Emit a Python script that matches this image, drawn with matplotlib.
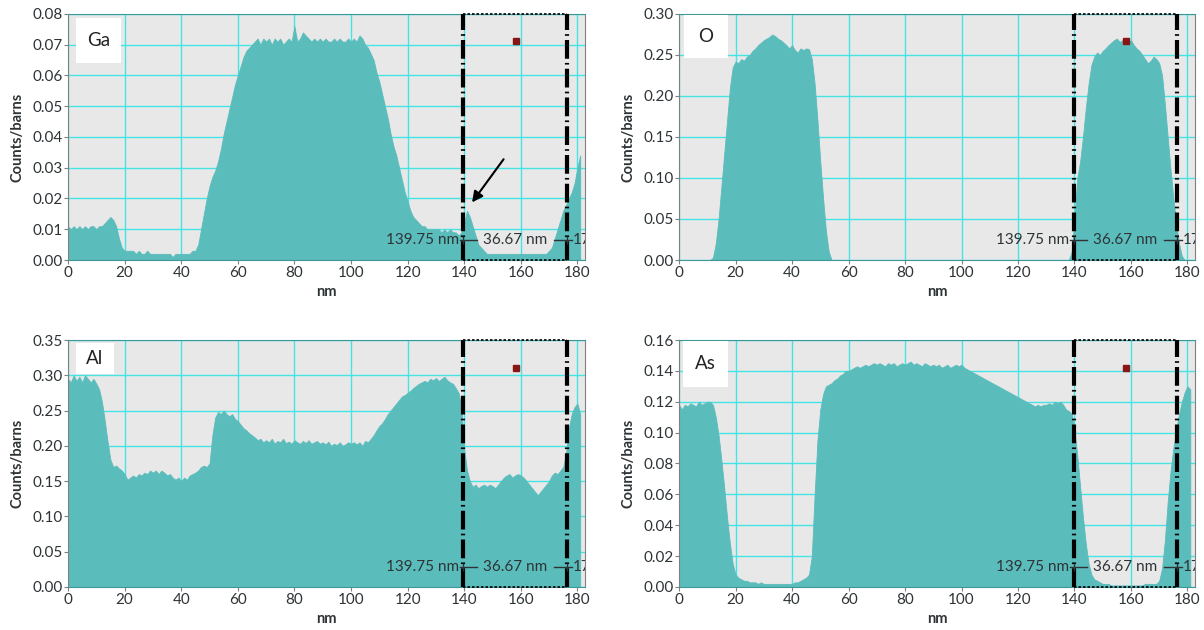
import numpy as np
import matplotlib.pyplot as plt
from matplotlib.patches import Rectangle

plt.rcParams['font.family'] = ['Lato', 'DejaVu Sans']

# positions along the line scan, 1 nm steps [nm]
x_nm = np.arange(0, 182)

ga = [0.011, 0.010, 0.011, 0.010, 0.011, 0.010, 0.011, 0.010, 0.011, 0.011,
      0.010, 0.011, 0.011, 0.012, 0.013, 0.014, 0.013, 0.011, 0.007, 0.004,
      0.003, 0.003, 0.003, 0.003, 0.002, 0.003, 0.002, 0.002, 0.003, 0.002,
      0.002, 0.002, 0.002, 0.002, 0.002, 0.002, 0.002, 0.001, 0.002, 0.002,
      0.002, 0.002, 0.002, 0.002, 0.003, 0.003, 0.005, 0.010, 0.015, 0.020,
      0.024, 0.027, 0.029, 0.032, 0.036, 0.041, 0.045, 0.049, 0.053, 0.057,
      0.060, 0.063, 0.066, 0.068, 0.069, 0.070, 0.071, 0.072, 0.070, 0.072,
      0.071, 0.072, 0.070, 0.072, 0.071, 0.072, 0.070, 0.071, 0.072, 0.071,
      0.076, 0.071, 0.072, 0.074, 0.073, 0.072, 0.071, 0.072, 0.071, 0.072,
      0.071, 0.072, 0.071, 0.071, 0.072, 0.071, 0.072, 0.071, 0.071, 0.072,
      0.071, 0.072, 0.071, 0.073, 0.072, 0.070, 0.069, 0.067, 0.065, 0.061,
      0.058, 0.054, 0.050, 0.046, 0.041, 0.037, 0.034, 0.030, 0.026, 0.022,
      0.019, 0.016, 0.014, 0.013, 0.012, 0.011, 0.011, 0.010, 0.010, 0.010,
      0.010, 0.010, 0.009, 0.010, 0.009, 0.010, 0.009, 0.009, 0.008, 0.009,
      0.012, 0.016, 0.014, 0.011, 0.008, 0.005, 0.004, 0.003, 0.002, 0.002,
      0.002, 0.002, 0.002, 0.002, 0.002, 0.002, 0.002, 0.002, 0.002, 0.002,
      0.002, 0.002, 0.002, 0.002, 0.002, 0.002, 0.002, 0.002, 0.002, 0.002,
      0.003, 0.004, 0.007, 0.010, 0.013, 0.016, 0.018, 0.020, 0.022, 0.025,
      0.030, 0.034]

o = [0, 0, 0, 0, 0, 0, 0, 0, 0, 0,
     0, 0, 0.003, 0.020, 0.050, 0.090, 0.130, 0.170, 0.210, 0.235,
     0.242, 0.240, 0.245, 0.243, 0.248, 0.250, 0.255, 0.258, 0.262, 0.265,
     0.268, 0.270, 0.272, 0.275, 0.273, 0.270, 0.268, 0.265, 0.262, 0.258,
     0.262, 0.256, 0.253, 0.258, 0.256, 0.258, 0.257, 0.245, 0.215, 0.170,
     0.120, 0.075, 0.035, 0.010, 0, 0, 0, 0, 0, 0] + [0] * 79 + [
     0.010,
     0.050, 0.100, 0.120, 0.150, 0.185, 0.215, 0.238, 0.248, 0.253, 0.250,
     0.255, 0.258, 0.262, 0.265, 0.268, 0.270, 0.266, 0.268, 0.270, 0.265,
     0.268, 0.262, 0.258, 0.255, 0.250, 0.245, 0.240, 0.243, 0.248, 0.245,
     0.240, 0.225, 0.190, 0.150, 0.110, 0.075, 0.045, 0.020, 0.005, 0,
     0, 0]

al = [0.295, 0.290, 0.300, 0.292, 0.298, 0.290, 0.300, 0.295, 0.290, 0.295,
      0.288, 0.280, 0.262, 0.235, 0.205, 0.180, 0.170, 0.172, 0.168, 0.165,
      0.160, 0.152, 0.155, 0.158, 0.155, 0.160, 0.158, 0.162, 0.160, 0.165,
      0.162, 0.165, 0.160, 0.165, 0.162, 0.158, 0.160, 0.155, 0.152, 0.155,
      0.150, 0.155, 0.152, 0.158, 0.160, 0.162, 0.165, 0.170, 0.172, 0.170,
      0.175, 0.215, 0.240, 0.248, 0.245, 0.250, 0.245, 0.242, 0.245, 0.238,
      0.235, 0.230, 0.225, 0.222, 0.218, 0.215, 0.212, 0.208, 0.210, 0.205,
      0.208, 0.205, 0.210, 0.203, 0.207, 0.205, 0.210, 0.204, 0.206, 0.203,
      0.208, 0.205, 0.203, 0.207, 0.204, 0.208, 0.203, 0.205, 0.207, 0.203,
      0.205, 0.202, 0.206, 0.200, 0.203, 0.201, 0.205, 0.200, 0.202, 0.205,
      0.203, 0.205, 0.202, 0.205, 0.200, 0.207, 0.205, 0.210, 0.215, 0.222,
      0.228, 0.232, 0.238, 0.245, 0.250, 0.255, 0.260, 0.265, 0.270, 0.272,
      0.275, 0.278, 0.282, 0.285, 0.288, 0.290, 0.292, 0.290, 0.295, 0.293,
      0.296, 0.292, 0.295, 0.298, 0.293, 0.290, 0.288, 0.282, 0.275, 0.255,
      0.195, 0.165, 0.150, 0.142, 0.145, 0.140, 0.143, 0.145, 0.142, 0.145,
      0.143, 0.140, 0.145, 0.150, 0.155, 0.158, 0.160, 0.155, 0.158, 0.160,
      0.158, 0.155, 0.150, 0.145, 0.140, 0.135, 0.130, 0.135, 0.140, 0.145,
      0.150, 0.158, 0.162, 0.160, 0.165, 0.170, 0.190, 0.225, 0.245, 0.255,
      0.260, 0.245]

as_ = [0.118, 0.115, 0.118, 0.117, 0.119, 0.118, 0.117, 0.120, 0.118, 0.119,
       0.120, 0.120, 0.118, 0.110, 0.098, 0.082, 0.064, 0.045, 0.028, 0.015,
       0.008, 0.006, 0.005, 0.004, 0.004, 0.003, 0.003, 0.003, 0.002, 0.003,
       0.002, 0.002, 0.002, 0.002, 0.002, 0.002, 0.002, 0.002, 0.002, 0.002,
       0.002, 0.003, 0.003, 0.004, 0.005, 0.006, 0.008, 0.020, 0.060, 0.095,
       0.115, 0.125, 0.130, 0.131, 0.132, 0.134, 0.135, 0.137, 0.138, 0.140,
       0.140, 0.141, 0.142, 0.143, 0.142, 0.143, 0.144, 0.143, 0.144, 0.145,
       0.144, 0.145, 0.144, 0.143, 0.145, 0.144, 0.145, 0.143, 0.144, 0.145,
       0.144, 0.145, 0.146, 0.144, 0.145, 0.144, 0.143, 0.145, 0.144, 0.143,
       0.144, 0.143, 0.144, 0.142, 0.143, 0.144, 0.142, 0.143, 0.144, 0.143,
       0.144, 0.142, 0.141, 0.140, 0.139, 0.138, 0.137, 0.136, 0.135, 0.134,
       0.133, 0.132, 0.131, 0.130, 0.129, 0.128, 0.127, 0.126, 0.125, 0.124,
       0.123, 0.122, 0.121, 0.120, 0.119, 0.118, 0.117, 0.118, 0.117, 0.118,
       0.118, 0.119, 0.118, 0.120, 0.119, 0.120, 0.118, 0.115, 0.114, 0.112,
       0.102, 0.085, 0.065, 0.045, 0.028, 0.015, 0.008, 0.005, 0.004, 0.003,
       0.002, 0.002, 0.002, 0.001, 0.001, 0.001, 0.001, 0.001, 0.001, 0.001,
       0.001, 0.001, 0.001, 0.001, 0.001, 0.002, 0.002, 0.002, 0.002, 0.002,
       0.004, 0.012, 0.030, 0.055, 0.075, 0.090, 0.102, 0.112, 0.120, 0.126,
       0.130, 0.128]

# cursor region
x_start = 139.75
x_width = 36.67
x_end = 176.42

panels = [
    # name, data, ymax, ystep, cursor marker y, axes rect, label box
    ('Ga', ga, 0.08, 0.01, 0.0712, [0.0565, 0.5873, 0.4294, 0.3905], (0.015, 0.800, 0.088, 0.184)),
    ('O', o, 0.30, 0.05, 0.267, [0.564, 0.5873, 0.4286, 0.3905], (0.01, 0.821, 0.084, 0.175)),
    ('Al', al, 0.35, 0.05, 0.310, [0.0565, 0.0683, 0.4294, 0.392], (0.015, 0.862, 0.074, 0.126)),
    ('As', as_, 0.16, 0.02, 0.1418, [0.564, 0.0683, 0.4286, 0.392], (0.008, 0.810, 0.086, 0.186)),
]

fill_col = '#5bbcbc'
grid_col = '#45e3e3'
txt_col = '#2e3336'

fig = plt.figure(figsize=(12.04, 6.3), dpi=100)

for name, prof, ymax, ystep, ymark, rect, box in panels:
    ax = fig.add_axes(rect)
    ax.set_facecolor('#e8e8e8')
    ax.fill_between(x_nm, prof, color=fill_col, lw=0.6, edgecolor=fill_col, zorder=2)
    ax.set_xlim(0, 182.7)
    ax.set_ylim(0, ymax)
    ax.set_xticks(np.arange(0, 181, 20))
    yt = np.arange(0, ymax + ystep / 2, ystep)
    ax.set_yticks(yt)
    ax.set_yticklabels(['%.2f' % v for v in yt])
    ax.grid(True, color=grid_col, lw=1.0, zorder=1)
    ax.set_axisbelow(True)
    for s in ['top', 'bottom']:
        ax.spines[s].set_color('#3f9797')
    for s in ['left', 'right']:
        ax.spines[s].set_color('#808080')
    ax.tick_params(length=3, width=0.8, color='#808080', labelsize=11,
                   labelcolor=txt_col, pad=1)
    ax.set_xlabel('nm', fontsize=10.5, color=txt_col, fontweight='bold', labelpad=4)
    ax.set_ylabel('Counts/barns', fontsize=10.5, color=txt_col, fontweight='bold')
    ax.yaxis.set_label_coords(-0.085, 0.5)

    # cursor box: thick dash-dot edges, dotted top and bottom
    for xc in (x_start, x_end):
        ax.plot([xc, xc], [0, ymax], color='black', lw=3,
                dashes=(4.5, 1, 0.4, 1), zorder=5, clip_on=False)
    ax.plot([x_start, x_end], [ymax, ymax], color='black', lw=1.2, ls=(0, (1.5, 1.2)), zorder=5, clip_on=False)
    ax.plot([x_start, x_end], [0, 0], color='black', lw=1.2, ls=(0, (1.5, 1.2)), zorder=5, clip_on=False)
    ax.plot(158.4, ymark, 's', color='#8a1515', ms=4, zorder=6)

    # cursor readout (end value is cut off by the plot edge)
    tr = ax.get_xaxis_transform()
    ya = 0.081
    ax.plot([138.4, 144.4], [ya, ya], color=txt_col, lw=1, transform=tr, zorder=6)
    ax.plot([171.8, 178.0], [ya, ya], color=txt_col, lw=1, transform=tr, zorder=6)
    ax.plot([x_start, x_end], [ya, ya], '|', color=txt_col, ms=6, transform=tr, zorder=6)
    ax.text(138.2, ya, '%.2f nm' % x_start, transform=tr, ha='right', va='center',
            fontsize=11, color=txt_col, zorder=7)
    ax.text((x_start + x_end) / 2, ya, '%.2f nm' % x_width, transform=tr, ha='center',
            va='center', fontsize=11, color=txt_col, zorder=7)
    ax.text(178.3, ya, '17', transform=tr, ha='left', va='center',
            fontsize=11, color=txt_col, zorder=7, clip_on=True)

    # element label
    bx, by, bw, bh = box
    ax.add_patch(Rectangle((bx, by), bw, bh, transform=ax.transAxes,
                           facecolor='white', edgecolor='none', zorder=6))
    ax.text(bx + bw / 2, by + bh / 2, name, transform=ax.transAxes, ha='center',
            va='center', fontsize=13.5, color='#222222', zorder=7)

    if name == 'Ga':
        ax.annotate('', xy=(142.2, 0.018), xytext=(154.5, 0.0335),
                    arrowprops=dict(arrowstyle='-|>', lw=1.5, color='black',
                                    mutation_scale=16), zorder=7)

fig.savefig('out.png', dpi=100)
